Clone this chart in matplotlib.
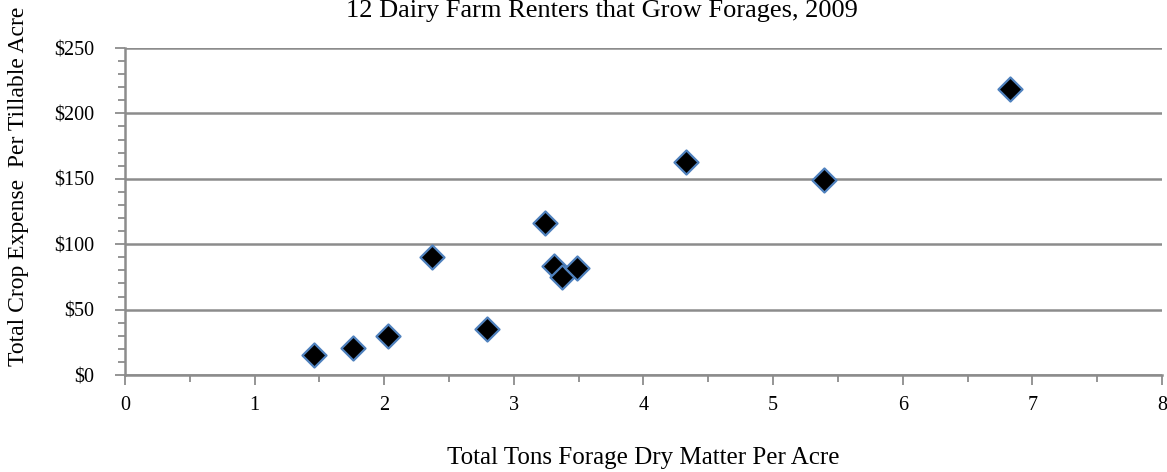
import matplotlib
matplotlib.use('Agg')
from matplotlib import pyplot as plt
from matplotlib.ticker import MultipleLocator, FuncFormatter

#datos (toneladas por acre, gasto por acre)
toneladas = [1.46, 1.76, 2.03, 2.37, 2.79, 3.24, 3.31, 3.37, 3.49, 4.33, 5.39, 6.83]
gasto = [15, 21, 30, 90, 35, 116, 83, 75, 82, 163, 149, 219]

titulo = '12 Dairy Farm Renters that Grow Forages, 2009'
etiqueta_x = 'Total Tons Forage Dry Matter Per Acre'
etiqueta_y = 'Total Crop Expense  Per Tillable Acre'

plt.rcParams['font.family'] = ['Liberation Serif', 'DejaVu Serif']

fig = plt.figure(figsize=(11.67, 4.72), dpi=100)
ax = fig.add_axes([0.1071, 0.2055, 0.8886, 0.6928])

ax.scatter(toneladas, gasto, marker='D', s=150, c='black', edgecolors='#4f81bd',
           linewidths=1.6, zorder=3, clip_on=False)

ax.set_xlim(0, 8)
ax.set_ylim(0, 250)
ax.xaxis.set_major_locator(MultipleLocator(1))
ax.xaxis.set_minor_locator(MultipleLocator(0.5))
ax.yaxis.set_major_locator(MultipleLocator(50))
ax.yaxis.set_minor_locator(MultipleLocator(10))
ax.yaxis.set_major_formatter(FuncFormatter(lambda v, p: '$%d' % v))

ax.grid(True, axis='y', which='major', color='#8c8c8c', linewidth=1.8)
ax.set_axisbelow(True)
for lado in ['top', 'right']:
    ax.spines[lado].set_visible(False)
for lado in ['left', 'bottom']:
    ax.spines[lado].set_color('#8c8c8c')
    ax.spines[lado].set_linewidth(1.8)

ax.tick_params(which='both', direction='out', color='#8c8c8c', width=1.3, labelsize=14.5)
ax.tick_params(which='major', length=7)
ax.tick_params(which='minor', length=5)
ax.tick_params(axis='y', which='major', pad=15)
ax.tick_params(axis='x', which='major', pad=8)

fig.text(0.516, 1.0, titulo, ha='center', va='top', fontsize=19)
fig.text(0.551, 0.03, etiqueta_x, ha='center', va='center', fontsize=18)
fig.text(0.016, 0.606, etiqueta_y, ha='center', va='center', rotation=90, fontsize=17)

fig.savefig('out.png', dpi=100)
